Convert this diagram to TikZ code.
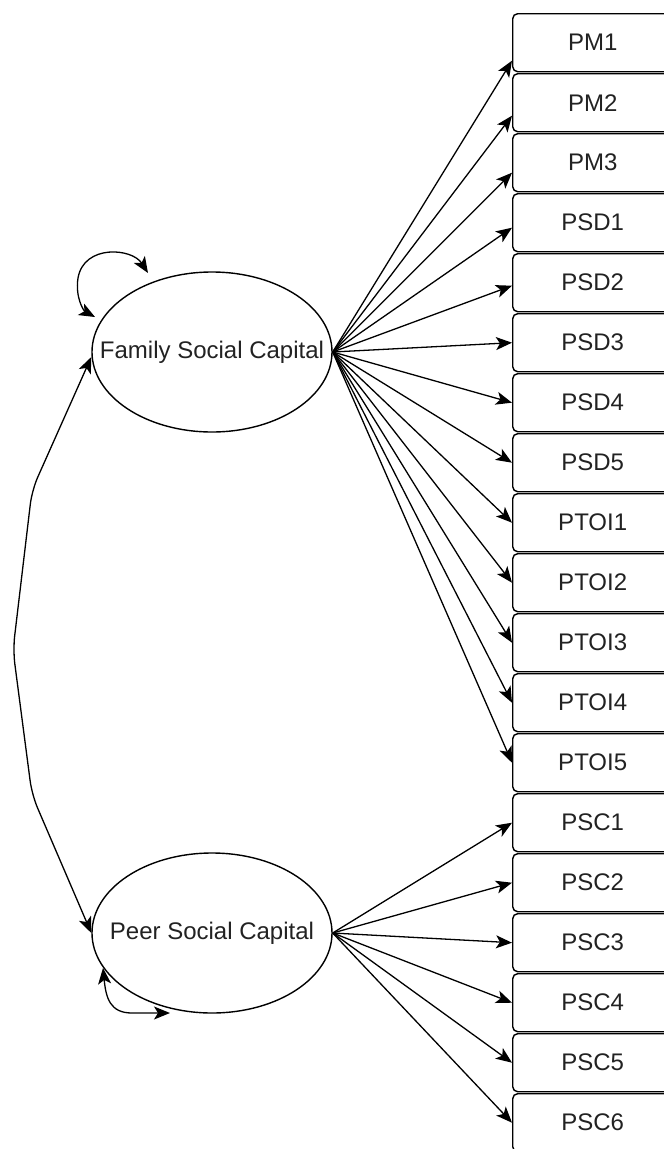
\documentclass[tikz,border=0pt]{standalone}
\usepackage{fontspec}
\setmainfont{Liberation Sans}
\usetikzlibrary{arrows.meta,shapes.geometric}
\definecolor{txt}{HTML}{222222}
\begin{document}
\begin{tikzpicture}[x=1pt,y=-1pt,
  lat/.style={ellipse, draw, line width=1.4pt, minimum width=240pt, minimum height=160pt, inner sep=0pt},
  lattext/.style={font=\fontsize{24}{28}\selectfont, text=txt, inner sep=0pt},
  ind/.style={draw, line width=1.4pt, rounded corners=5pt, minimum width=160pt, minimum height=58pt,
    anchor=north west, inner sep=0pt, font=\fontsize{24}{28}\selectfont, text=txt},
  tip/.tip={Stealth[length=16pt,width=13pt,inset=4pt]},
  arr/.style={line width=1.3pt, -tip},
  arrb/.style={line width=1.3pt, tip-tip},
]
\path[use as bounding box, clip] (0,0) rectangle (664,1149);
\node[lat] (fam) at (212,352) {};
\node[lattext] (famt) at (fam.center) {Family Social Capital};
\node[lat] (peer) at (212,933) {};
\node[lattext] (peert) at (peer.center) {Peer Social Capital};
\foreach \lab [count=\i from 0] in {PM1,PM2,PM3,PSD1,PSD2,PSD3,PSD4,PSD5,PTOI1,PTOI2,PTOI3,PTOI4,PTOI5,PSC1,PSC2,PSC3,PSC4,PSC5,PSC6}{
  \node[ind] (b\i) at (512,13+60*\i) {\lab};
}
% Family loadings
\foreach \i/\s in {0/-18,1/-13,2/-10,3/-5,4/-3,5/0,6/0,7/0,8/0,9/0,10/0,11/0,12/0}{
  \draw[arr] (fam.east) -- ([yshift=\s pt]b\i.west);
}
% Peer loadings
\foreach \i in {13,...,18}{
  \draw[arr] (peer.east) -- (b\i.west);
}
% covariance
\draw[arrb, rounded corners=14pt] ([yshift=-5pt]fam.west) -- (32,490) -- (13,650) -- (32,795) -- (peer.west);
% variance loops
\coordinate (fa) at (148,273);
\coordinate (fb) at (95,317);
\draw[arrb] (fa) .. controls (132,248) and (84,244) .. (78,278) .. controls (75,298) and (84,311) .. (fb);
\coordinate (pa) at (103,968);
\coordinate (pb) at (170,1013);
\draw[arrb] (pa) .. controls (106,998) and (110,1013) .. (132,1013) -- (pb);
\end{tikzpicture}
\end{document}
